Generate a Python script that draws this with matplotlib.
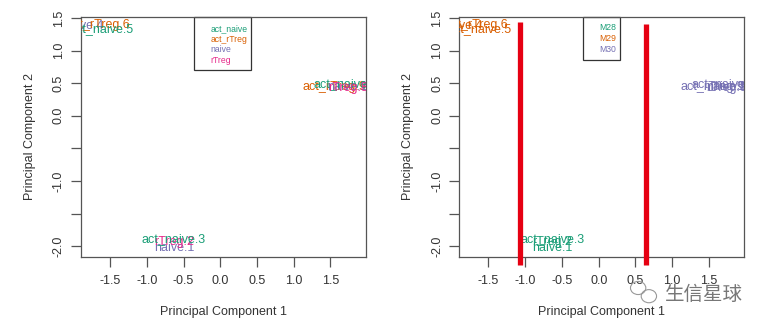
import matplotlib.pyplot as plt
from matplotlib.patches import Rectangle, Ellipse

plt.rcParams['font.family'] = ['Liberation Sans', 'DejaVu Sans']

# PCA scores, sample labels and grouping
samples = ['naive.1', 'rTreg.2', 'act_naive.3',
           'naive.4', 'act_rTreg.6', 'act_naive.5',
           'act_rTreg.9', 'naive.10', 'act_naive.7', 'rTreg.8']
pc1 = [-0.63, -0.63, -0.63,
       -1.86, -1.66, -1.62,
       1.55, 1.78, 1.70, 1.74]
pc2 = [-2.03, -1.93, -1.89,
       1.38, 1.39, 1.33,
       0.44, 0.44, 0.48, 0.43]
cell_type = ['naive', 'rTreg', 'act_naive',
             'naive', 'act_rTreg', 'act_naive',
             'act_rTreg', 'naive', 'act_naive', 'rTreg']
batch = ['M28', 'M28', 'M28',
         'M29', 'M29', 'M29',
         'M30', 'M30', 'M30', 'M30']

type_levels = ['act_naive', 'act_rTreg', 'naive', 'rTreg']
batch_levels = ['M28', 'M29', 'M30']
dark2 = ['#1B9E77', '#D95F02', '#7570B3', '#E7298A']

# red marker lines on the batch panel: x, top y
cut_x = [-1.07, 0.65]
cut_top = [1.44, 1.40]
cut_bottom = -2.29

xlim = (-1.90, 1.98)
ylim = (-2.16, 1.51)
xticks = [-1.5, -1.0, -0.5, 0.0, 0.5, 1.0, 1.5]
yticks = [-2.0, -1.5, -1.0, -0.5, 0.0, 0.5, 1.0, 1.5]
ytick_labels = ['-2.0', '', '-1.0', '', '0.0', '0.5', '1.0', '1.5']

axcol = '#555555'
txtcol = '#333333'

fig = plt.figure(figsize=(7.67, 3.28), dpi=100)
ax1 = fig.add_axes([0.1052, 0.2174, 0.3716, 0.7299])
ax2 = fig.add_axes([0.5984, 0.2174, 0.3720, 0.7299])


def setup(ax):
    ax.set_xlim(*xlim)
    ax.set_ylim(*ylim)
    ax.set_xticks(xticks)
    ax.set_xticklabels(['%.1f' % v for v in xticks])
    ax.set_yticks(yticks)
    ax.set_yticklabels(ytick_labels, rotation=90, va='center')
    ax.tick_params(length=7, width=0.9, color=axcol, labelcolor=txtcol,
                   labelsize=9)
    ax.tick_params(axis='x', pad=6)
    ax.tick_params(axis='y', pad=4.5)
    for s in ax.spines.values():
        s.set_color(axcol)
        s.set_linewidth(0.9)
    ax.set_xlabel('Principal Component 1', fontsize=9, color=txtcol, labelpad=14)
    ax.set_ylabel('Principal Component 2', fontsize=9, color=txtcol, labelpad=12)


def legend_box(ax, x0, x1, y0, levels, colors, tx, ty):
    ax.add_patch(Rectangle((x0, y0), x1 - x0, 1.0 - y0, transform=ax.transAxes,
                           fill=False, ec='#333333', lw=0.9, clip_on=False))
    for i, (lev, c) in enumerate(zip(levels, colors)):
        ax.text(tx, ty[i], lev, color=c, fontsize=6.2, transform=ax.transAxes,
                ha='left', va='center')


# panel 1: coloured by cell type
setup(ax1)
for s, x, y, g in zip(samples, pc1, pc2, cell_type):
    ax1.text(x, y, s, color=dark2[type_levels.index(g)], fontsize=9,
             ha='center', va='center', clip_on=True)
legend_box(ax1, 0.3986, 0.5986, 0.78, type_levels, dark2, 0.456,
           [0.953, 0.909, 0.864, 0.821])

# panel 2: coloured by batch
setup(ax2)
for s, x, y, g in zip(samples, pc1, pc2, batch):
    ax2.text(x, y, s, color=dark2[batch_levels.index(g)], fontsize=9,
             ha='center', va='center', clip_on=True)
legend_box(ax2, 0.436, 0.566, 0.82, batch_levels, dark2[:3], 0.492,
           [0.957, 0.910, 0.866])
for x, top in zip(cut_x, cut_top):
    ax2.plot([x, x], [cut_bottom, top], color='#E60012', lw=3.8,
             solid_capstyle='butt', clip_on=False, zorder=5)

# watermark
fig.text(0.968, 0.103, '生信星球', fontsize=14, color='#777777',
         ha='right', va='center', family=['Noto Sans CJK SC', 'DejaVu Sans'])
fig.patches.append(Ellipse((0.832, 0.122), 0.020, 0.040, fill=False,
                           ec='#999999', lw=0.8, transform=fig.transFigure))
fig.patches.append(Ellipse((0.846, 0.097), 0.020, 0.040, fill=False,
                           ec='#999999', lw=0.8, transform=fig.transFigure))

fig.savefig('out.png', dpi=100)
